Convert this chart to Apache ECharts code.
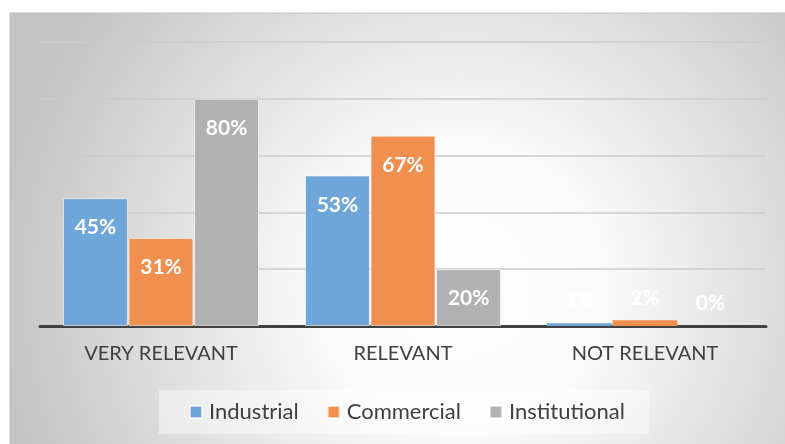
<!DOCTYPE html>
<html><head><meta charset="utf-8">
<script src="https://cdn.jsdelivr.net/npm/echarts@6/dist/echarts.min.js"></script>
<style>html,body{margin:0;padding:0;background:#fff}#c{width:785px;height:444px}</style>
</head><body><div id="c"></div>
<script>
const categories = ['VERY RELEVANT', 'RELEVANT', 'NOT RELEVANT'];
const seriesNames = ['Industrial', 'Commercial', 'Institutional'];
const industrial = [45, 53, 1];
const commercial = [31, 67, 2];
const institutional = [80, 20, 0];
const colors = ['#6fa6d9', '#f08f4e', '#b1b1b1'];
const yTicks = [0, 20, 40, 60, 80, 100];

const values = [industrial, commercial, institutional];
const font = 'Lato, "Open Sans", sans-serif';

const chart = echarts.init(document.getElementById('c'));
chart.setOption({
  animation: false,
  graphic: { elements: [{
    type: 'rect', z: -10, silent: true,
    shape: { x: 10, y: 13, width: 790, height: 440 },
    style: {
      fill: { type: 'radial', x: 0.57, y: 0.62, r: 1.05, colorStops: [
        { offset: 0, color: '#ffffff' }, { offset: 0.3, color: '#fbfbfb' }, { offset: 1, color: '#c4c4c4' }] },
      stroke: '#c0c0c0', lineWidth: 1
    }
  }]},
  grid: { left: 40, right: 19, top: 42, bottom: 118 },
  legend: {
    data: seriesNames, bottom: 10, left: 159,
    padding: [11, 24, 11, 30],
    backgroundColor: 'rgba(255,255,255,0.45)',
    itemWidth: 12, itemHeight: 12, itemGap: 28, icon: 'rect',
    textStyle: { color: '#404040', fontSize: 22, fontFamily: font, padding: [0, 0, 0, 2] }
  },
  xAxis: {
    type: 'category', data: categories,
    axisLine: { lineStyle: { color: '#404040', width: 3 } },
    axisTick: { show: false },
    axisLabel: { color: '#404040', fontSize: 20, fontFamily: font, margin: 18 }
  },
  yAxis: {
    type: 'value', min: yTicks[0], max: yTicks[yTicks.length - 1], interval: 20,
    axisLabel: { show: false }, axisLine: { show: false }, axisTick: { show: false },
    splitLine: { lineStyle: { color: '#cbcbcb', width: 1.5 } }
  },
  series: seriesNames.map((name, i) => ({
    name, type: 'bar', barGap: '1%', barCategoryGap: '19%',
    itemStyle: { color: colors[i], borderColor: 'rgba(255,255,255,0.6)', borderWidth: 1 },
    label: { show: true, position: 'insideTop', distance: 19, color: '#fff',
      fontWeight: 'bold', fontSize: 21, fontFamily: font, formatter: '{c}%' },
    data: values[i].map(v => v < 10
      ? { value: v, itemStyle: { borderWidth: 0 }, label: { position: 'top', distance: 12 } }
      : v)
  }))
});
</script></body></html>
